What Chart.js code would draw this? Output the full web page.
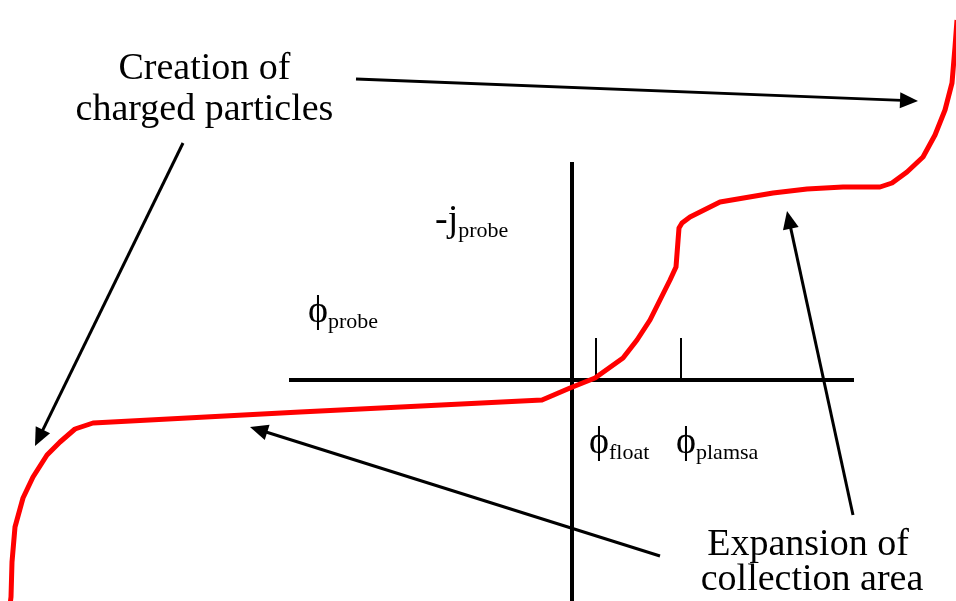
<!DOCTYPE html>
<html>
<head>
<meta charset="utf-8">
<title>Langmuir probe characteristic</title>
<script src="https://cdn.jsdelivr.net/npm/chart.js@4/dist/chart.umd.min.js"></script>
<style>
  html, body { margin: 0; padding: 0; background: #ffffff; }
  #wrap { width: 956px; height: 601px; }
</style>
</head>
<body>
<div id="wrap"><canvas id="c" width="956" height="601"></canvas></div>
<script>
// Probe potential (arbitrary units) and the matching collected current -j_probe
const probePotential = [-56.2, -56.1, -56.0, -55.7, -54.9, -53.9, -52.5, -51.2, -49.7, -47.9,
  -27.2, -3.0, -0.2, 2.3, 5.1, 6.5, 7.8, 8.8, 9.8, 10.4, 10.7, 11.0, 11.8, 14.8, 20.1,
  23.5, 27.1, 30.8, 32.0, 33.5, 35.1, 36.3, 37.3, 38.0, 38.3, 38.5];
const probeCurrent = [-22.5, -21.7, -18.2, -14.7, -11.8, -9.7, -7.5, -6.2, -4.9, -4.3,
  -3.2, -2.0, -0.8, 0.2, 2.2, 4.0, 6.0, 8.0, 10.0, 11.3, 15.2, 15.7, 16.3, 17.8, 18.7,
  19.1, 19.3, 19.3, 19.7, 20.8, 22.3, 24.5, 27.0, 29.7, 33.3, 36.0];

// Axis extents
const potentialAxis = [-28.3, 28.2];
const currentAxis = [-22.1, 21.8];

// Marked potentials: floating and plasma potential
const floatPotential = 2.4;
const plasmaPotential = 10.9;
const markerHeight = 4.2;

// Visible window of the plot
const xRange = [-57.2, 38.4];
const yRange = [-22.1, 38.0];

// Callout arrows: [fromX, fromY, toX, toY]
const arrows = [
  [-21.6, 30.1, 34.6, 27.9],
  [-38.9, 23.7, -53.7, -6.6],
  [8.8, -17.6, -32.2, -4.7],
  [28.1, -13.5, 21.5, 16.9]
];

const serif = "'Liberation Serif', 'Times New Roman', serif";

// Labels: text, x, y, alignment, subscript
const labels = [
  { text: 'more like', x: -56.7, y: 38.1, align: 'left' },
  { text: 'Creation of', x: -36.75, y: 30.1, align: 'center' },
  { text: 'charged particles', x: -36.75, y: 26.0, align: 'center' },
  { text: 'Expansion of', x: 23.6, y: -17.5, align: 'center' },
  { text: 'collection area', x: 24.0, y: -21.0, align: 'center' },
  { text: '-j', x: -13.7, y: 14.9, align: 'left', sub: 'probe' },
  { text: '\u03D5', x: -26.4, y: 5.8, align: 'left', sub: 'probe' },
  { text: '\u03D5', x: 1.7, y: -7.3, align: 'left', sub: 'float' },
  { text: '\u03D5', x: 10.4, y: -7.3, align: 'left', sub: 'plamsa' }
];

const pts = (xs, ys) => xs.map((x, i) => ({ x: x, y: ys[i] }));

const calloutPlugin = {
  id: 'callouts',
  afterDatasetsDraw(chart) {
    const ctx = chart.ctx;
    const sx = chart.scales.x, sy = chart.scales.y;
    ctx.save();
    // arrows
    ctx.strokeStyle = '#000';
    ctx.fillStyle = '#000';
    arrows.forEach(a => {
      const x0 = sx.getPixelForValue(a[0]), y0 = sy.getPixelForValue(a[1]);
      const x1 = sx.getPixelForValue(a[2]), y1 = sy.getPixelForValue(a[3]);
      const ang = Math.atan2(y1 - y0, x1 - x0);
      const headLen = 18, headHalf = 8;
      const bx = x1 - Math.cos(ang) * (headLen - 2), by = y1 - Math.sin(ang) * (headLen - 2);
      ctx.lineWidth = 3;
      ctx.lineCap = 'butt';
      ctx.beginPath();
      ctx.moveTo(x0, y0);
      ctx.lineTo(bx, by);
      ctx.stroke();
      const hx = x1 - Math.cos(ang) * headLen, hy = y1 - Math.sin(ang) * headLen;
      ctx.beginPath();
      ctx.moveTo(x1, y1);
      ctx.lineTo(hx + Math.sin(ang) * headHalf, hy - Math.cos(ang) * headHalf);
      ctx.lineTo(hx - Math.sin(ang) * headHalf, hy + Math.cos(ang) * headHalf);
      ctx.closePath();
      ctx.fill();
    });
    // text
    ctx.textBaseline = 'alphabetic';
    labels.forEach(l => {
      const px = sx.getPixelForValue(l.x), py = sy.getPixelForValue(l.y);
      ctx.font = '38px ' + serif;
      ctx.textAlign = l.align;
      ctx.fillText(l.text, px, py);
      if (l.sub) {
        const w = ctx.measureText(l.text).width;
        ctx.font = '22px ' + serif;
        ctx.textAlign = 'left';
        ctx.fillText(l.sub, px + w, py + 6);
      }
    });
    ctx.restore();
  }
};

new Chart(document.getElementById('c'), {
  type: 'scatter',
  data: {
    datasets: [
      {
        data: pts(probePotential, probeCurrent),
        showLine: true, borderColor: '#ff0000', borderWidth: 5,
        pointRadius: 0, tension: 0, borderJoinStyle: 'round'
      },
      {
        data: pts(potentialAxis, [0, 0]),
        showLine: true, borderColor: '#000', borderWidth: 4, pointRadius: 0
      },
      {
        data: pts([0, 0], currentAxis),
        showLine: true, borderColor: '#000', borderWidth: 4, pointRadius: 0
      },
      {
        data: pts([floatPotential, floatPotential], [0, markerHeight]),
        showLine: true, borderColor: '#000', borderWidth: 2, pointRadius: 0
      },
      {
        data: pts([plasmaPotential, plasmaPotential], [0, markerHeight]),
        showLine: true, borderColor: '#000', borderWidth: 2, pointRadius: 0
      }
    ]
  },
  options: {
    responsive: false,
    animation: false,
    devicePixelRatio: 1,
    layout: { padding: 0 },
    plugins: { legend: { display: false }, tooltip: { enabled: false }, title: { display: false } },
    events: [],
    scales: {
      x: { type: 'linear', display: false, min: xRange[0], max: xRange[1] },
      y: { type: 'linear', display: false, min: yRange[0], max: yRange[1] }
    }
  },
  plugins: [calloutPlugin]
});
</script>
</body>
</html>
